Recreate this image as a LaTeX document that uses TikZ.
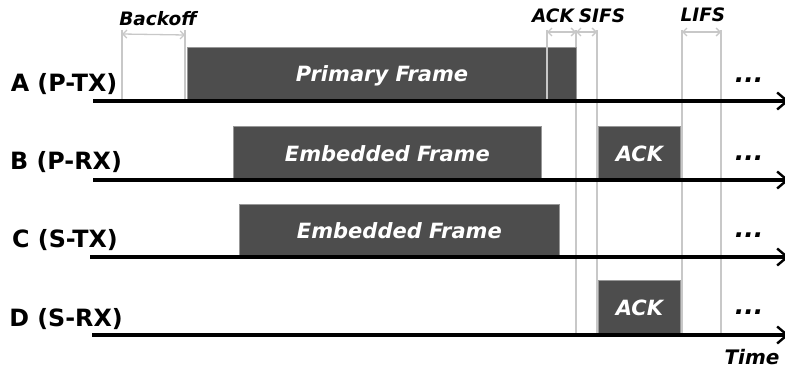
\documentclass[tikz,border=0pt]{standalone}
\usepackage{fontspec}
\setmainfont{DejaVu Sans}
\usetikzlibrary{arrows.meta}
\definecolor{boxgray}{RGB}{77,77,77}
\definecolor{guide}{RGB}{200,200,200}
\tikzset{
  axis/.style={line width=3.2pt,-{Straight Barb[length=10pt,width=17pt,line width=2.4pt]}},
  frame/.style={fill=boxgray,draw=guide!60!boxgray,line width=0.8pt,text=white,font=\bfseries\itshape\fontsize{21}{24}\selectfont},
  guideline/.style={draw=guide,line width=1.5pt},
  dim/.style={draw=guide,line width=1.3pt,{Straight Barb[length=4pt,width=8pt]}-{Straight Barb[length=4pt,width=8pt]}},
  lbl/.style={font=\bfseries\fontsize{23.8}{28}\selectfont},
  dimlbl/.style={font=\bfseries\itshape\fontsize{18.5}{22}\selectfont},
  dots/.style={font=\bfseries\itshape\fontsize{25}{28}\selectfont},
}
\begin{document}
\begin{tikzpicture}[x=1pt,y=-1pt]
\useasboundingbox (0,0) rectangle (785,369);
% guide lines
\draw[guideline] (122,30) -- (122,101);
\draw[guideline] (185,30) -- (185,101);
\draw[guideline] (576,30) -- (576,335);
\draw[guideline] (597,30) -- (597,335);
\draw[guideline] (682,30) -- (682,335);
\draw[guideline] (721,30) -- (721,335);
% frames
\node[frame,minimum width=389pt,minimum height=54pt,anchor=north west,inner sep=0pt] (pf) at (187,47) {};
\node[text=white,font=\bfseries\itshape\fontsize{21}{24}\selectfont] (pft) at (382,75.5) {Primary Frame};
\draw[guideline] (547,30) -- (547,101);
\node[frame,minimum width=308pt,minimum height=54pt,anchor=north west,inner sep=0pt] (eb) at (233,126) {Embedded Frame};
\node[frame,minimum width=82pt,minimum height=54pt,anchor=north west,inner sep=0pt] (ab) at (598,126) {ACK};
\node[frame,minimum width=320pt,minimum height=53pt,anchor=north west,inner sep=0pt] (ec) at (239,204) {Embedded Frame};
\node[frame,minimum width=82pt,minimum height=55pt,anchor=north west,inner sep=0pt] (ad) at (598,280) {ACK};
% axes
\coordinate (a0) at (93,101); \coordinate (a1) at (789,101);
\coordinate (b0) at (93,180); \coordinate (b1) at (789,180);
\coordinate (c0) at (90,257); \coordinate (c1) at (789,257);
\coordinate (d0) at (92,335); \coordinate (d1) at (789,335);
\draw[axis] (a0) -- (a1);
\draw[axis] (b0) -- (b1);
\draw[axis] (c0) -- (c1);
\draw[axis] (d0) -- (d1);
% labels
\node[lbl] (la) at (64,84) {A (P-TX)};
\node[lbl] (lb) at (66,162) {B (P-RX)};
\node[lbl] (lc) at (65,240) {C (S-TX)};
\node[lbl] (ld) at (66,319) {D (S-RX)};
% dimension arrows
\coordinate (bk0) at (122,34); \coordinate (bk1) at (185,35);
\coordinate (ak0) at (547,32); \coordinate (ak1) at (576,32);
\coordinate (sf0) at (576,32); \coordinate (sf1) at (597,32);
\coordinate (lf0) at (682,32); \coordinate (lf1) at (721,32);
\draw[dim] (bk0) -- (bk1);
\draw[dim] (ak0) -- (ak1);
\draw[dim] (sf0) -- (sf1);
\draw[dim] (lf0) -- (lf1);
\node[dimlbl] (tb) at (158,19) {Backoff};
\node[dimlbl] (ta) at (553,16) {ACK};
\node[dimlbl] (ts) at (602,16) {SIFS};
\node[dimlbl] (tl) at (703,15) {LIFS};
% dots
\node[dots] (da) at (749,80) {...};
\node[dots] (db) at (749,158) {...};
\node[dots] (dc) at (749,235) {...};
\node[dots] (dd) at (749,312) {...};
\node[font=\bfseries\itshape\fontsize{20}{24}\selectfont] (time) at (752,357) {Time};
\end{tikzpicture}
\end{document}
